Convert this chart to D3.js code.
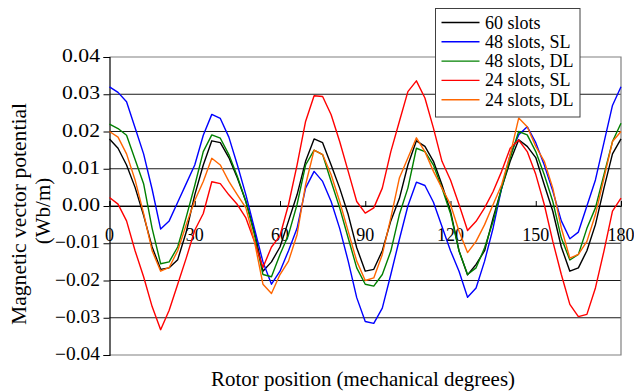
<!DOCTYPE html>
<html>
<head>
<meta charset="utf-8">
<script src="https://cdn.jsdelivr.net/npm/d3@7"></script>
<style>
  body { margin: 0; background: #fff; }
  text { font-family: "Liberation Serif", "Times New Roman", serif; fill: #000; }
</style>
</head>
<body>
<div id="chart"></div>
<script>
// rotor position, mechanical degrees (sampled every 3 deg)
var degrees = d3.range(0, 181, 3);

// magnetic vector potential, in units of 0.001 Wb/m
var slots60 = [18, 15.5, 11, 5, -2.5, -11, -17, -16.6, -14.4, -7, 3,
  11, 17.5, 17, 13, 7.5, 1.2, -6.8, -17.5, -15, -11,
  -4, 3, 12, 18, 17, 11, 4.8, -2.3, -11.2, -17.5,
  -17, -12, -4, 2, 11, 17.5, 16, 12, 5.7, -1.4,
  -12, -18.5, -15.7, -12, -3.2, 4.8, 12, 17.8, 16, 13,
  5.7, -1.4, -11, -17.5, -16.6, -12, -5, 4.8, 14, 18];
var slots48SL = [32, 30.5, 28, 21, 14, 4.5, -6.2, -4, 1, 6, 11,
  19, 24.6, 23.5, 18.5, 11, 3, -6, -15, -21, -17.5,
  -12, -6, 4.8, 9.3, 6.6, 1.2, -6, -14.8, -24.6, -31,
  -31.5, -27.4, -18.4, -9, 0, 6.4, 5.5, 1, -5.5, -12,
  -17.5, -24.5, -22, -14.8, -5.9, 4.8, 13.8, 19.1, 21.3, 17,
  11, 4, -4, -8.8, -7, 0, 7, 17, 27, 32];
var slots48DL = [22, 20.8, 19, 12.5, 6, -6, -15.5, -15, -11, -3, 5.5,
  14.6, 19.1, 18.2, 13.8, 7.9, 1.2, -7.7, -18.4, -19, -13,
  -7.7, 0.4, 11, 15, 13.8, 6.6, -0.5, -8.6, -16.6, -21,
  -21.5, -18.4, -12.1, -2.3, 4.8, 15.5, 14.6, 11, 4.8, -2,
  -12.1, -18.4, -16.6, -11.2, -4.1, 4.8, 12.9, 20, 19.1, 14.6,
  8.4, 1.2, -8.6, -14.5, -13, -6, -0.5, 8.4, 17.3, 22.2];
var slots24SL = [2.3, 0.5, -4, -12, -19, -27, -33.2, -28, -21, -14, -6.5,
  -2, 6.5, 6, 3, 0.4, -3.2, -9.5, -16.5, -11, -8,
  0.4, 11, 22.7, 29.6, 29.4, 24.5, 17.3, 9.3, 1.2, -1.9,
  -0.5, 4.8, 14.6, 22.7, 30.7, 33.6, 29, 20.9, 12, 7,
  0.4, -6.6, -4.1, -0.5, 3.9, 9.3, 15.5, 17.7, 14.6, 8.5,
  0.4, -9.5, -18.4, -26.4, -29.7, -29.1, -22, -12.1, -1.4, 2.1];
var slots24DL = [20, 18.5, 14, 7, -2, -12, -17.5, -16.5, -12, -5, 1.5,
  6.6, 12.8, 11, 6.6, 3, -0.5, -9.5, -21, -23.5, -18.4,
  -14.8, -7.7, 5.7, 15, 13.8, 8.4, 1.2, -6.8, -14.8, -20,
  -19.3, -13, -3.2, 7.5, 12.9, 18.3, 14.6, 9.3, 4.8, 0.4,
  -6.8, -12.5, -9.5, -5, 0.4, 5.7, 13.8, 23.6, 21.3, 16,
  12, 4.8, -5.9, -14, -13, -9.5, -2.3, 7.5, 17.3, 20];

var seriesNames = ["60 slots", "48 slots, SL", "48 slots, DL", "24 slots, SL", "24 slots, DL"];
var seriesColors = ["#000000", "#0000ff", "#008000", "#ff0000", "#ff6600"];
var seriesValues = [slots60, slots48SL, slots48DL, slots24SL, slots24DL];

var xTicks = [0, 30, 60, 90, 120, 150, 180];
var yTicks = [-0.04, -0.03, -0.02, -0.01, 0, 0.01, 0.02, 0.03, 0.04];

var W = 634, H = 391;
var plot = { left: 109.5, right: 621, top: 57, bottom: 355 };

var svg = d3.select("#chart").append("svg")
    .attr("width", W)
    .attr("height", H);

svg.append("rect").attr("width", W).attr("height", H).attr("fill", "#fff");

var x = d3.scaleLinear().domain([0, 180]).range([plot.left, plot.right]);
var y = d3.scaleLinear().domain([-0.04, 0.04]).range([plot.bottom, plot.top]);

// gridlines
svg.append("g").selectAll("line")
    .data(yTicks.filter(function(d) { return Math.abs(d) < 0.035; }))
    .enter().append("line")
    .attr("x1", plot.left).attr("x2", plot.right)
    .attr("y1", function(d) { return y(d); })
    .attr("y2", function(d) { return y(d); })
    .attr("stroke", "#1a1a1a")
    .attr("stroke-width", 1);

// plot border (top, right, bottom) in grey
svg.append("path")
    .attr("d", "M" + plot.left + "," + plot.top + "H" + plot.right + "V" + plot.bottom + "H" + plot.left)
    .attr("fill", "none")
    .attr("stroke", "#808080")
    .attr("stroke-width", 1.2);

// y axis
var yAxis = svg.append("g")
    .attr("transform", "translate(" + plot.left + ",0)")
    .call(d3.axisLeft(y).tickValues(yTicks).tickSize(6).tickFormat(""));
yAxis.select(".domain").attr("stroke", "#000").attr("stroke-width", 1.2);
yAxis.selectAll(".tick line").attr("stroke", "#000");

svg.append("g").selectAll("text")
    .data(yTicks)
    .enter().append("text")
    .attr("x", 100)
    .attr("y", function(d) { return y(d) + 5; })
    .attr("text-anchor", "end")
    .attr("font-size", 18)
    .attr("textLength", function(d) { return d < 0 ? 45 : 38; })
    .attr("lengthAdjust", "spacingAndGlyphs")
    .text(function(d) { return d3.format(".2f")(d); });

// x axis on the zero line, ticks pointing up
var xAxis = svg.append("g")
    .attr("transform", "translate(0," + y(0) + ")")
    .call(d3.axisTop(x).tickValues(xTicks).tickSize(5).tickFormat(""));
xAxis.select(".domain").attr("stroke", "#000").attr("stroke-width", 1);
xAxis.selectAll(".tick line").attr("stroke", "#000");

svg.append("g").selectAll("text")
    .data(xTicks)
    .enter().append("text")
    .attr("x", function(d) { return x(d); })
    .attr("y", 241)
    .attr("text-anchor", "middle")
    .attr("font-size", 18)
    .text(function(d) { return d; });

// series
var line = d3.line()
    .x(function(d, i) { return x(degrees[i]); })
    .y(function(d) { return y(d / 1000); });

svg.append("g").selectAll("path")
    .data(seriesValues)
    .enter().append("path")
    .attr("d", line)
    .attr("fill", "none")
    .attr("stroke", function(d, i) { return seriesColors[i]; })
    .attr("stroke-width", 1.4)
    .attr("stroke-linejoin", "round");

// axis titles
svg.append("text")
    .attr("transform", "translate(26,214) rotate(-90)")
    .attr("text-anchor", "middle")
    .attr("font-size", 21)
    .attr("textLength", 222)
    .attr("lengthAdjust", "spacingAndGlyphs")
    .text("Magnetic vector potential");

svg.append("text")
    .attr("transform", "translate(50,211) rotate(-90)")
    .attr("text-anchor", "middle")
    .attr("font-size", 21)
    .text("(Wb/m)");

svg.append("text")
    .attr("x", 363)
    .attr("y", 386)
    .attr("text-anchor", "middle")
    .attr("font-size", 21)
    .attr("textLength", 304)
    .attr("lengthAdjust", "spacingAndGlyphs")
    .text("Rotor position (mechanical degrees)");

// legend
var legend = svg.append("g");
legend.append("rect")
    .attr("x", 435.5).attr("y", 8.5)
    .attr("width", 144.5).attr("height", 108.5)
    .attr("fill", "#fff")
    .attr("stroke", "#404040")
    .attr("stroke-width", 1);

var items = legend.selectAll("g.item")
    .data(seriesNames)
    .enter().append("g")
    .attr("class", "item")
    .attr("transform", function(d, i) { return "translate(0," + (i * 19.3) + ")"; });

items.append("line")
    .attr("x1", 441.5).attr("x2", 479.5)
    .attr("y1", 22.5).attr("y2", 22.5)
    .attr("stroke", function(d, i) { return seriesColors[i]; })
    .attr("stroke-width", 1.4);

items.append("text")
    .attr("x", 485)
    .attr("y", 28.5)
    .attr("font-size", 18)
    .text(function(d) { return d; });
</script>
</body>
</html>
